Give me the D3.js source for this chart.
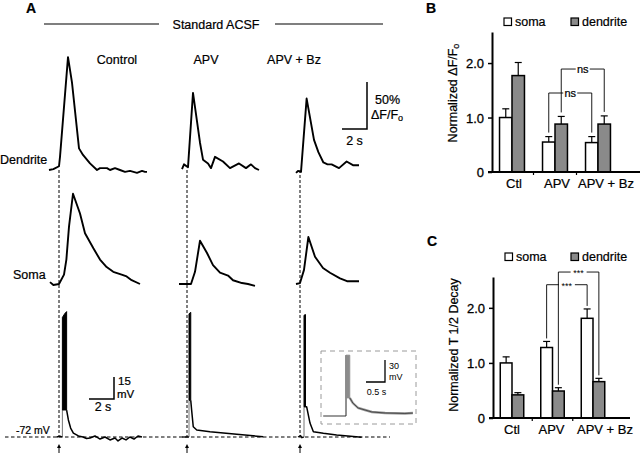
<!DOCTYPE html>
<html><head><meta charset="utf-8">
<script src="https://cdn.jsdelivr.net/npm/d3@7"></script>
<style>
body{margin:0;background:#fff}
svg text{font-family:"Liberation Sans",Arial,Helvetica,sans-serif;fill:#000;stroke:#000;stroke-width:0.22px}
</style></head>
<body><svg id="fig" width="640" height="454"></svg>
<script>
// ---------------- DATA ----------------
const conditions = ["Control", "APV", "APV + Bz"];
const barCategories = ["Ctl", "APV", "APV + Bz"];
const seriesNames = ["soma", "dendrite"];
const yTicks = [0, 1.0, 2.0];

// Panel B: normalized dF/F0
const ampSoma = [1.0, 0.55, 0.54];
const ampSomaErr = [0.16, 0.10, 0.11];
const ampDend = [1.77, 0.88, 0.88];
const ampDendErr = [0.24, 0.14, 0.15];
// Panel C: normalized T1/2 decay
const decaySoma = [1.0, 1.28, 1.81];
const decaySomaErr = [0.11, 0.11, 0.17];
const decayDend = [0.42, 0.49, 0.66];
const decayDendErr = [0.04, 0.06, 0.06];

// significance comparisons: [category index, series]
const ampComparisons = [
  {a: [1, "soma"], b: [2, "soma"], label: "ns", level: 1.45},
  {a: [1, "dendrite"], b: [2, "dendrite"], label: "ns", level: 1.89}
];
const decayComparisons = [
  {a: [1, "soma"], b: [2, "soma"], label: "***", level: 2.42},
  {a: [1, "dendrite"], b: [2, "dendrite"], label: "***", level: 2.65}
];

// Panel A traces: [time (s) from stimulus, dF/F0 (%)]
const dendControl = [[-0.8,0],[-0.45,1],[0,4],[0.08,14],[0.72,120],[1.04,93],[1.6,23],[1.92,16],[2.48,7],[3.04,0],[3.28,2],[3.84,2],[4.08,0],[4.48,2],[4.88,0],[5.28,-2],[5.68,-1],[6.24,-3],[6.64,-1],[6.88,-2],[7.04,-2]];
const dendAPV = [[-0.4,1],[-0.24,6],[0.08,3],[0.48,82],[1.04,29],[1.28,11],[1.68,7],[1.92,2],[2.24,14],[2.88,9],[3.44,2],[4.16,7],[4.72,2],[5.12,6],[5.44,2],[5.76,0]];
const dendAPVBz = [[-0.32,-3],[-0.16,-1],[0.08,-2],[0.53,76],[1.12,32],[1.47,19],[1.87,8],[2.2,6],[2.53,6],[3.12,2],[3.73,9],[4.27,5],[4.72,5]];
const somaControl = [[-0.72,2],[-0.45,-1],[0,0],[0.4,10],[0.59,26],[0.8,61],[1.12,96],[1.68,75],[2.08,54],[2.75,38],[3.28,26],[3.81,18],[4.34,13],[5.01,10],[5.41,8],[5.81,4],[6.48,0]];
const somaAPV = [[-0.64,0],[0.32,0],[0.64,13],[1.04,46],[1.6,33],[2.08,20],[2.64,12],[3.28,9],[3.68,4],[4.4,1],[4.88,0],[5.44,-2]];
const somaAPVBz = [[-0.32,0],[0,1],[0.32,15],[0.67,50],[1.2,29],[1.84,17],[2.4,12],[3.2,6],[3.76,3],[4.72,3]];

// Membrane potential: [time (s), mV]; bursts as envelope [time, top mV, bottom mV]
const vmPreControl = [[-0.2,-72],[0.1,-71.5],[0.27,-72]];
const burstControl = [[0.27,9.5,-53.6],[0.45,12,-53.6],[0.61,13.5,-53.6]];
const vmPostControl = [[0.61,-53.6],[0.75,-60.4],[0.93,-65.9],[1.15,-69.3],[1.55,-71.3],[1.92,-72],[2.2,-73],[2.48,-72.7],[2.88,-71.3],[3.28,-73.4],[3.68,-72],[4.08,-74],[4.48,-72.7],[4.72,-74.7],[5.04,-72.7],[5.36,-74],[5.68,-72],[6.0,-73.4],[6.32,-71.3],[6.64,-72]];
const vmPreAPV = [[-0.4,-72],[0.16,-72]];
const burstAPV = [[0.16,12,-47],[0.3,13,-47]];
const vmPostAPV = [[0.3,-47],[0.37,-53.6],[0.5,-65],[0.78,-67.2],[1.84,-68.4],[3.98,-70.2],[6.1,-71.8]];
const vmPreAPVBz = [[-0.16,-72],[0.05,-71],[0.15,-72.5],[0.32,-72]];
const burstAPVBz = [[0.32,11,-51.5],[0.44,11.5,-51.5]];
const vmPostAPVBz = [[0.44,-51.5],[0.53,-51.3],[0.8,-62.5],[1.07,-68.4],[1.87,-69.5],[2.93,-70.6],[4.93,-72.2]];
// Inset (expanded time base)
const insetPre = [[-0.6,-72],[0,-72]];
const insetBurst = [[0,11,-47.4],[0.1,11,-47.4]];
const insetPost = [[0.1,-47.4],[0.18,-54.3],[0.32,-61.1],[0.5,-63.8],[0.68,-66.5],[1.03,-67.9],[1.55,-68.5],[1.76,-68]];

// ---------------- DRAW ----------------
const svg = d3.select("#fig");
const FONT = 12.5;
const grey = "#8a8a8a";

function txt(x, y, s, opts = {}) {
  const t = svg.append("text").attr("x", x).attr("y", y).text(s)
    .attr("font-size", opts.size || FONT)
    .attr("text-anchor", opts.anchor || "start");
  if (opts.weight) t.attr("font-weight", opts.weight);
  if (opts.thin) t.style("stroke-width", "0px");
  return t;
}

// ===== Panel A =====
txt(26, 13, "A", {size: 14, weight: "bold"});
svg.append("line").attr("x1", 44).attr("x2", 159).attr("y1", 24).attr("y2", 24).attr("stroke", "#000").attr("stroke-width", 1.2);
svg.append("line").attr("x1", 275).attr("x2", 383).attr("y1", 24).attr("y2", 24).attr("stroke", "#000").attr("stroke-width", 1.2);
txt(216, 29, "Standard ACSF", {anchor: "middle"});

const stimX = [59, 187, 300];
const labelX = [117, 206, 294];
conditions.forEach((c, i) => txt(labelX[i], 64, c, {anchor: "middle"}));

const xCol = stimX.map(sx => d3.scaleLinear().domain([0, 2]).range([sx, sx + 25]));
const yDend = d3.scaleLinear().domain([0, 50]).range([170, 123]);
const ySoma = d3.scaleLinear().domain([0, 50]).range([284, 237]);
const yVolt = d3.scaleLinear().domain([-72, -57]).range([437, 415]);

// row labels
txt(0, 164, "Dendrite");
txt(13, 279, "Soma");
txt(16, 434, "-72 mV", {size: 10.5});

// dashed guide lines
stimX.forEach(sx => {
  svg.append("line").attr("x1", sx).attr("x2", sx).attr("y1", yDend(0)).attr("y2", yVolt(-72))
    .attr("stroke", "#000").attr("stroke-width", 1).attr("stroke-dasharray", "3,2");
});
svg.append("line").attr("x1", 5).attr("x2", 390).attr("y1", yVolt(-72)).attr("y2", yVolt(-72))
  .attr("stroke", "#000").attr("stroke-width", 1).attr("stroke-dasharray", "3.5,2.5");

// Ca traces
const dendSets = [dendControl, dendAPV, dendAPVBz];
const somaSets = [somaControl, somaAPV, somaAPVBz];
dendSets.forEach((d, i) => {
  const line = d3.line().x(p => xCol[i](p[0])).y(p => yDend(p[1]));
  svg.append("path").attr("d", line(d)).attr("fill", "none").attr("stroke", "#000").attr("stroke-width", 1.9).attr("stroke-linejoin", "round");
});
somaSets.forEach((d, i) => {
  const line = d3.line().x(p => xCol[i](p[0])).y(p => ySoma(p[1]));
  svg.append("path").attr("d", line(d)).attr("fill", "none").attr("stroke", "#000").attr("stroke-width", 1.9).attr("stroke-linejoin", "round");
});

// Vm traces
const vmSets = [
  [vmPreControl, burstControl, vmPostControl],
  [vmPreAPV, burstAPV, vmPostAPV],
  [vmPreAPVBz, burstAPVBz, vmPostAPVBz]
];
vmSets.forEach((set, i) => {
  const [pre, burst, post] = set;
  const line = d3.line().x(p => xCol[i](p[0])).y(p => yVolt(p[1]));
  const area = d3.area().x(p => xCol[i](p[0])).y0(p => yVolt(p[2])).y1(p => yVolt(p[1]));
  svg.append("line").attr("x1", xCol[i](burst[0][0])).attr("x2", xCol[i](burst[0][0]))
    .attr("y1", yVolt(-72)).attr("y2", yVolt(burst[0][2])).attr("stroke", "#777").attr("stroke-width", 1);
  svg.append("path").attr("d", line(pre)).attr("fill", "none").attr("stroke", "#000").attr("stroke-width", 1.3);
  svg.append("path").attr("d", area(burst)).attr("fill", "#000").attr("stroke", "#000").attr("stroke-width", 1);
  svg.append("path").attr("d", line(post)).attr("fill", "none").attr("stroke", "#000").attr("stroke-width", 1.5).attr("stroke-linejoin", "round");
});

// arrows
stimX.forEach(sx => {
  svg.append("line").attr("x1", sx).attr("x2", sx).attr("y1", 453).attr("y2", 447).attr("stroke", "#000").attr("stroke-width", 1);
  svg.append("path").attr("d", `M${sx - 2},${448} L${sx},${444} L${sx + 2},${448} Z`).attr("fill", "#000");
});

// dF scale bar
{
  const x0 = 367, y0 = 129;
  const w = xCol[2](2) - xCol[2](0), h = yDend(0) - yDend(50);
  svg.append("path").attr("d", `M${x0 - w},${y0} H${x0} V${y0 - h}`).attr("fill", "none").attr("stroke", "#000").attr("stroke-width", 1.5);
  txt(375, 104, "50%");
  const t = txt(371, 119, "\u0394F/F");
  t.append("tspan").attr("font-size", 9).attr("dy", 2).text("o");
  txt(x0 - w / 2, 145, "2 s", {anchor: "middle"});
}
// Vm scale bar
{
  const x0 = 114, y0 = 399;
  const w = xCol[0](2) - xCol[0](0), h = yVolt(-72) - yVolt(-57);
  svg.append("path").attr("d", `M${x0 - w},${y0} H${x0} V${y0 - h}`).attr("fill", "none").attr("stroke", "#000").attr("stroke-width", 1.5);
  txt(118, 385, "15", {size: 11.5});
  txt(117, 397.5, "mV", {size: 11.5});
  txt(103, 411, "2 s", {anchor: "middle"});
}

// Inset
svg.append("rect").attr("x", 321).attr("y", 351).attr("width", 95).attr("height", 73)
  .attr("fill", "none").attr("stroke", "#9a9a9a").attr("stroke-width", 1).attr("stroke-dasharray", "5,4");
{
  const xi = d3.scaleLinear().domain([0, 0.5]).range([346, 365]);
  const yi = d3.scaleLinear().domain([-72, -42]).range([416, 394]);
  const line = d3.line().x(p => xi(p[0])).y(p => yi(p[1]));
  const area = d3.area().x(p => xi(p[0])).y0(p => yi(p[2])).y1(p => yi(p[1]));
  svg.append("path").attr("d", line(insetPre)).attr("fill", "none").attr("stroke", "#555").attr("stroke-width", 1.2);
  svg.append("line").attr("x1", xi(0)).attr("x2", xi(0)).attr("y1", yi(-72)).attr("y2", yi(11)).attr("stroke", "#222").attr("stroke-width", 1);
  svg.append("path").attr("d", area(insetBurst)).attr("fill", "#8c8c8c").attr("stroke", "#8c8c8c").attr("stroke-width", 0.8);
  svg.append("path").attr("d", line(insetPost)).attr("fill", "none").attr("stroke", "#999").attr("stroke-width", 2.4);
  svg.append("path").attr("d", line(insetPost)).attr("fill", "none").attr("stroke", "#333").attr("stroke-width", 0.8);
  const x0 = 385, y0 = 382;
  const w = xi(0.5) - xi(0), h = yi(-72) - yi(-42);
  svg.append("path").attr("d", `M${x0 - w},${y0} H${x0} V${y0 - h}`).attr("fill", "none").attr("stroke", "#000").attr("stroke-width", 1.3);
  txt(389, 369, "30", {size: 9, thin: true});
  txt(389, 380, "mV", {size: 9, thin: true});
  txt(x0 - w / 2 + 1, 395, "0.5 s", {size: 9, anchor: "middle", thin: true});
}

// ===== Bar panels =====
function barPanel(cfg) {
  const g = svg.append("g");
  const x = d3.scaleBand().domain(barCategories).range(cfg.xRange).paddingInner(0.42).paddingOuter(0.21);
  const xs = d3.scaleBand().domain(seriesNames).range([0, x.bandwidth()]);
  const y = d3.scaleLinear().domain([0, cfg.yMax]).range([cfg.y0, cfg.yTop]);
  const vals = {soma: cfg.soma, dendrite: cfg.dend};
  const errs = {soma: cfg.somaErr, dendrite: cfg.dendErr};
  const cx = (i, s) => x(barCategories[i]) + xs(s) + xs.bandwidth() / 2;

  txt(cfg.letterX, cfg.letterY, cfg.letter, {size: 14, weight: "bold"});
  seriesNames.forEach((s, k) => {
    const lx = cfg.legendX[k];
    g.append("rect").attr("x", lx).attr("y", cfg.legendY - 8).attr("width", 7.5).attr("height", 7.5)
      .attr("fill", s === "soma" ? "#fff" : grey).attr("stroke", "#000").attr("stroke-width", 1.2);
    txt(lx + 11, cfg.legendY, s);
  });

  seriesNames.forEach(s => {
    barCategories.forEach((c, i) => {
      const v = vals[s][i], e = errs[s][i];
      const bx = x(c) + xs(s);
      g.append("line").attr("x1", cx(i, s)).attr("x2", cx(i, s)).attr("y1", y(v)).attr("y2", y(v + e)).attr("stroke", "#000").attr("stroke-width", 1.2);
      g.append("line").attr("x1", cx(i, s) - 3.5).attr("x2", cx(i, s) + 3.5).attr("y1", y(v + e)).attr("y2", y(v + e)).attr("stroke", "#000").attr("stroke-width", 1.2);
      g.append("rect").attr("x", bx).attr("y", y(v)).attr("width", xs.bandwidth()).attr("height", y(0) - y(v))
        .attr("fill", s === "soma" ? "#fff" : grey).attr("stroke", "#000").attr("stroke-width", 1.5);
    });
  });

  cfg.comparisons.forEach(cmp => {
    const [ia, sa] = cmp.a, [ib, sb] = cmp.b;
    const xa = cx(ia, sa), xb = cx(ib, sb);
    const ya = y(vals[sa][ia] + errs[sa][ia]) - cfg.gap;
    const yb = y(vals[sb][ib] + errs[sb][ib]) - cfg.gap;
    const yl = y(cmp.level);
    const mid = (xa + xb) / 2 + cfg.labelShift;
    const half = cfg.labelHalf;
    g.append("path").attr("d", `M${xa},${ya} V${yl} H${mid - half} M${mid + half},${yl} H${xb} V${yb}`)
      .attr("fill", "none").attr("stroke", "#000").attr("stroke-width", 0.9);
    txt(mid, yl + (cmp.label === "ns" ? 3.5 : 4), cmp.label, {size: cmp.label === "ns" ? 11 : 9, anchor: "middle", thin: cmp.label !== "ns"});
  });

  const ax = g.append("g").attr("transform", `translate(${cfg.xAxis},0)`)
    .call(d3.axisLeft(y).tickValues(yTicks).tickFormat(d => d === 0 ? "0" : d3.format(".1f")(d)).tickSize(4).tickSizeOuter(0).tickPadding(4));
  ax.select(".domain").attr("stroke-width", 2);
  ax.selectAll(".tick line").attr("stroke-width", 1.5);
  ax.selectAll(".tick text").attr("font-size", 13).attr("font-family", "Liberation Sans, Arial, sans-serif").attr("dy", "0.36em").style("stroke-width", "0.3px");
  g.append("line").attr("x1", cfg.xAxis - 4).attr("x2", cfg.xEnd).attr("y1", y(0)).attr("y2", y(0)).attr("stroke", "#000").attr("stroke-width", 2);
  for (let i = 0; i < barCategories.length - 1; i++) {
    const bx = (x(barCategories[i]) + x(barCategories[i + 1]) + x.bandwidth()) / 2;
    g.append("line").attr("x1", bx).attr("x2", bx).attr("y1", y(0)).attr("y2", y(0) + 3).attr("stroke", "#000").attr("stroke-width", 1.2);
  }
  barCategories.forEach((c, i) => {
    txt(x(c) + x.bandwidth() / 2 + cfg.labelDx[i], y(0) + 16, c, {size: 13, anchor: "middle"});
  });
  const yl = svg.append("text").attr("transform", `translate(${cfg.yLabelX},${cfg.yLabelY}) rotate(-90)`)
    .attr("text-anchor", "middle").attr("font-size", FONT).text(cfg.yLabel);
  if (cfg.sub) yl.append("tspan").attr("font-size", 9).attr("dy", 2).text(cfg.sub);
}

barPanel({
  letter: "B", letterX: 426, letterY: 13,
  legendX: [504, 571], legendY: 26,
  xRange: [490.5, 619.5], yMax: 2.57, y0: 172, yTop: 32, xAxis: 492, xEnd: 640,
  soma: ampSoma, somaErr: ampSomaErr, dend: ampDend, dendErr: ampDendErr,
  comparisons: ampComparisons, gap: 4, labelShift: 0, labelHalf: 7,
  labelDx: [2, 2, 8],
  yLabel: "Normalized \u0394F/F", sub: "o", yLabelX: 457, yLabelY: 93
});
barPanel({
  letter: "C", letterX: 427, letterY: 246,
  legendX: [505, 571], legendY: 261,
  xRange: [491.75, 613.25], yMax: 2.56, y0: 418, yTop: 277, xAxis: 493, xEnd: 630,
  soma: decaySoma, somaErr: decaySomaErr, dend: decayDend, dendErr: decayDendErr,
  comparisons: decayComparisons, gap: 3, labelShift: 0, labelHalf: 8,
  labelDx: [0, -1, 12],
  yLabel: "Normalized T 1/2 Decay", yLabelX: 458, yLabelY: 345
});
</script>
</body></html>
